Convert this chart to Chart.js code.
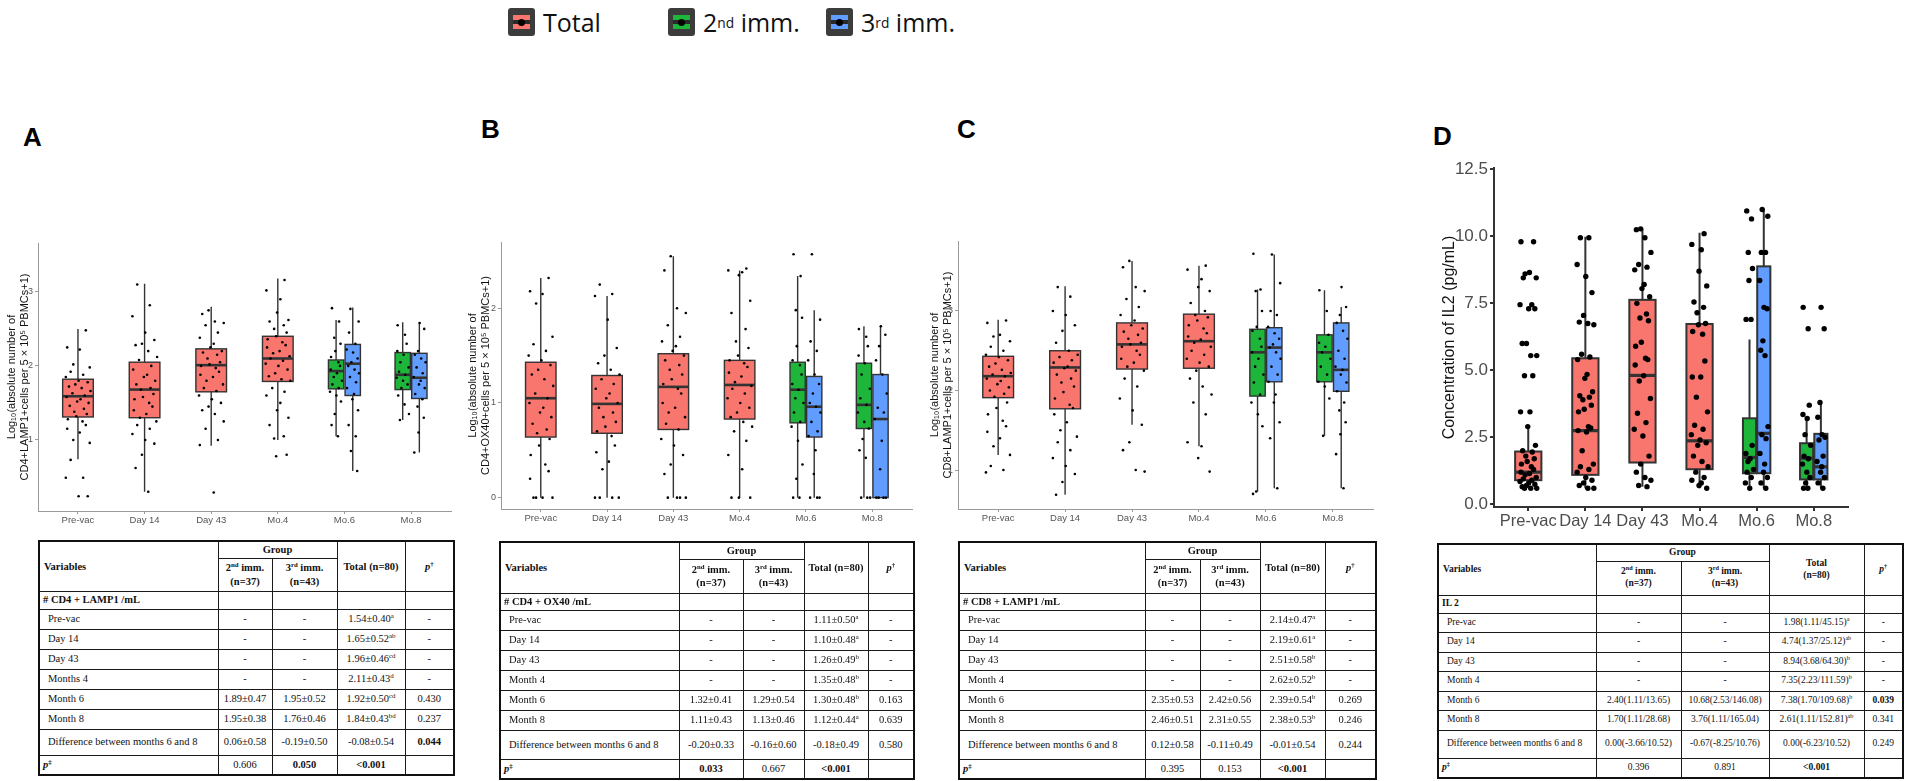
<!DOCTYPE html>
<html>
  <head>
    <meta charset="utf-8" />
    <title>Cellular and IL2 responses</title>
    <script src="https://cdn.jsdelivr.net/npm/chart.js"></script>
    <style>
      body {
        margin: 0;
        width: 1906px;
        height: 781px;
        position: relative;
        overflow: hidden;
        background: #fff;
        font-family: Arial, "Liberation Sans", sans-serif;
      }
      canvas {
        position: absolute;
      }
      .letter {
        position: absolute;
        font: bold 26px Arial, "Liberation Sans", sans-serif;
        color: #000;
      }
      .key {
        position: absolute;
        top: 4px;
        height: 36px;
        display: flex;
        align-items: center;
        font: 25px "Open Sans", "Noto Sans", sans-serif;
        color: #111;
      }
      .key sup {
        font-size: 0.55em;
      }
      .icon {
        position: relative;
        width: 27px;
        height: 28px;
        margin-right: 8px;
        background: #3c3c3c;
        border-radius: 3px;
      }
      .icon::before {
        content: "";
        position: absolute;
        left: 5px;
        top: 7px;
        width: 17px;
        height: 14px;
        background: linear-gradient(
          to bottom,
          var(--c) 0 35%,
          #2a2a2a 35% 65%,
          var(--c) 65% 100%
        );
      }
      .icon::after {
        content: "";
        position: absolute;
        left: 10px;
        top: 11px;
        width: 7px;
        height: 7px;
        border-radius: 50%;
        background: #000;
      }
      table.stats {
        position: absolute;
        border-collapse: collapse;
        table-layout: fixed;
        font-family: "Liberation Serif", "DejaVu Serif", serif;
        font-size: 10.5px;
        color: #111;
        border: 2px solid #111;
      }
      table.stats td {
        border: 1.4px solid #1a1a1a;
        padding: 0 2px;
        text-align: center;
        white-space: nowrap;
        line-height: 1.25;
        overflow: hidden;
      }
      table.stats td.l {
        text-align: left;
        padding-left: 8px;
      }
      table.stats td.sec {
        text-align: left;
        padding-left: 3px;
      }
      table.stats sup {
        font-size: 0.65em;
        line-height: 0;
      }
    </style>
  </head>
  <body>
    <span class="key" style="left: 508px"><span class="icon" style="--c: #f8766d"></span>Total</span>
    <span class="key" style="left: 668px"><span class="icon" style="--c: #1db53a"></span>2<sup>nd</sup>&nbsp;imm.</span>
    <span class="key" style="left: 826px"><span class="icon" style="--c: #619cff"></span>3<sup>rd</sup>&nbsp;imm.</span>

    <div class="letter" style="left: 23px; top: 122px">A</div>
    <div class="letter" style="left: 481px; top: 114px">B</div>
    <div class="letter" style="left: 957px; top: 114px">C</div>
    <div class="letter" style="left: 1433px; top: 121px">D</div>

    <canvas id="chartA" width="470" height="340" style="left: 0; top: 200px"></canvas>
    <canvas id="chartB" width="470" height="340" style="left: 462px; top: 200px"></canvas>
    <canvas id="chartC" width="475" height="340" style="left: 918px; top: 200px"></canvas>
    <canvas id="chartD" width="486" height="420" style="left: 1420px; top: 120px"></canvas>

    <table class="stats" id="tableA"></table>
    <table class="stats" id="tableB"></table>
    <table class="stats" id="tableC"></table>
    <table class="stats" id="tableD"></table>

    <script>
      const categories = ["Pre-vac", "Day 14", "Day 43", "Mo.4", "Mo.6", "Mo.8"];

      // box stats: [lower whisker, q1, median, q3, upper whisker]
      // Total boxes for Pre-vac .. Mo.4, group boxes for Mo.6 and Mo.8

      // A: CD4+LAMP1
      const cd4LampTotalStats = [
        [0.74, 1.31, 1.59, 1.82, 2.5],
        [0.3, 1.3, 1.68, 2.05, 3.11],
        [0.92, 1.65, 2.01, 2.23, 2.8],
        [1.0, 1.79, 2.1, 2.4, 3.18],
      ];
      const cd4Lamp2ndStats = [
        [1.05, 1.69, 1.93, 2.08, 2.62],
        [1.27, 1.68, 1.88, 2.18, 2.59],
      ];
      const cd4Lamp3rdStats = [
        [0.58, 1.6, 2.03, 2.29, 2.79],
        [0.83, 1.56, 1.84, 2.17, 2.59],
      ];
      const cd4LampTotalPts = [
        [2.48, 2.25, 2.22, 2.02, 1.98, 1.92, 1.88, 1.85, 1.8, 1.78, 1.75, 1.72, 1.7, 1.66, 1.63, 1.6, 1.58, 1.55, 1.52, 1.5, 1.46, 1.42, 1.38, 1.35, 1.32, 1.28, 1.25, 1.2, 1.15, 1.1, 1.0, 0.96, 0.73, 0.49, 0.49, 0.24, 0.24],
        [3.1, 2.82, 2.67, 2.45, 2.35, 2.3, 2.28, 2.2, 2.12, 2.08, 2.0, 1.95, 1.88, 1.85, 1.8, 1.75, 1.7, 1.68, 1.62, 1.58, 1.55, 1.5, 1.45, 1.4, 1.35, 1.3, 1.25, 1.2, 1.15, 1.08, 1.0, 0.95, 0.8, 0.62, 0.3],
        [2.75, 2.7, 2.6, 2.58, 2.55, 2.45, 2.38, 2.3, 2.25, 2.2, 2.18, 2.15, 2.1, 2.05, 2.02, 2.0, 1.97, 1.92, 1.88, 1.85, 1.8, 1.75, 1.7, 1.66, 1.6, 1.55, 1.5, 1.45, 1.4, 1.35, 1.25, 1.15, 1.0, 0.93, 0.29],
        [3.16, 3.02, 2.9, 2.72, 2.62, 2.6, 2.55, 2.5, 2.45, 2.4, 2.36, 2.32, 2.28, 2.25, 2.2, 2.17, 2.13, 2.1, 2.07, 2.03, 2.0, 1.95, 1.9, 1.86, 1.82, 1.8, 1.7, 1.65, 1.6, 1.5, 1.4, 1.3, 1.2, 1.05, 1.02, 0.8, 0.78],
      ];
      const cd4Lamp2ndPts = [
        [2.78, 2.6, 2.38, 2.3, 2.2, 2.12, 2.05, 2.0, 1.95, 1.9, 1.85, 1.8, 1.75, 1.7, 1.65, 1.6, 1.52, 1.35, 1.2, 1.05],
        [2.55, 2.42, 2.3, 2.2, 2.15, 2.05, 1.98, 1.92, 1.88, 1.84, 1.8, 1.75, 1.7, 1.6, 1.48, 1.35, 1.27],
      ];
      const cd4Lamp3rdPts = [
        [2.77, 2.6, 2.45, 2.3, 2.22, 2.18, 2.1, 2.05, 2.0, 1.95, 1.9, 1.85, 1.78, 1.7, 1.62, 1.55, 1.4, 1.2, 1.05, 0.85, 0.58],
        [2.58, 2.5, 2.2, 2.15, 2.1, 2.05, 1.98, 1.9, 1.85, 1.8, 1.75, 1.7, 1.62, 1.55, 1.45, 1.3, 1.1, 0.83],
      ];

      // B: CD4+OX40
      const cd4Ox40TotalStats = [
        [0, 0.64, 1.05, 1.43, 2.32],
        [0, 0.68, 0.99, 1.29, 2.13],
        [0, 0.72, 1.17, 1.52, 2.55],
        [0, 0.83, 1.19, 1.45, 2.4],
      ];
      const cd4Ox402ndStats = [
        [0, 0.79, 1.14, 1.43, 2.34],
        [0, 0.73, 0.98, 1.42, 1.81],
      ];
      const cd4Ox403rdStats = [
        [0, 0.64, 0.96, 1.28, 1.98],
        [0, 0, 0.83, 1.3, 1.81],
      ];
      const cd4Ox40TotalPts = [
        [2.32, 2.18, 2.15, 2.05, 1.7, 1.62, 1.55, 1.5, 1.45, 1.4, 1.35, 1.3, 1.25, 1.18, 1.1, 1.05, 1.0, 0.95, 0.9, 0.85, 0.78, 0.72, 0.68, 0.62, 0.55, 0.45, 0.35, 0.28, 0.2, 0, 0, 0, 0],
        [2.25, 2.15, 2.13, 1.88, 1.58, 1.5, 1.42, 1.35, 1.3, 1.25, 1.2, 1.15, 1.1, 1.05, 1.0, 0.95, 0.9, 0.85, 0.8, 0.75, 0.7, 0.65, 0.55, 0.48, 0.38, 0.3, 0, 0, 0, 0],
        [2.55, 2.4, 2.0, 1.95, 1.82, 1.7, 1.65, 1.6, 1.55, 1.5, 1.45, 1.4, 1.35, 1.3, 1.25, 1.2, 1.15, 1.1, 1.0, 0.95, 0.9, 0.85, 0.78, 0.72, 0.62, 0.55, 0.45, 0.35, 0.25, 0, 0, 0, 0],
        [2.42, 2.4, 2.38, 2.35, 2.08, 1.95, 1.78, 1.65, 1.58, 1.5, 1.45, 1.42, 1.38, 1.32, 1.28, 1.22, 1.18, 1.15, 1.1, 1.05, 1.0, 0.95, 0.9, 0.85, 0.8, 0.75, 0.7, 0.6, 0.45, 0.3, 0, 0, 0],
      ];
      const cd4Ox402ndPts = [
        [2.57, 2.34, 1.98, 1.9, 1.6, 1.45, 1.4, 1.3, 1.2, 1.14, 1.05, 1.0, 0.9, 0.8, 0.75, 0.6, 0.35, 0.2, 0, 0],
        [1.78, 1.7, 1.6, 1.5, 1.42, 1.3, 1.15, 1.05, 0.98, 0.9, 0.8, 0.73, 0.62, 0.5, 0.42, 0, 0, 0],
      ];
      const cd4Ox403rdPts = [
        [2.57, 1.88, 1.65, 1.55, 1.45, 1.3, 1.2, 1.1, 1.0, 0.96, 0.9, 0.8, 0.7, 0.65, 0.5, 0.25, 0, 0, 0],
        [1.81, 1.72, 1.6, 1.45, 1.3, 1.1, 0.95, 0.9, 0.83, 0.6, 0.3, 0, 0, 0, 0],
      ];

      // C: CD8+LAMP1
      const cd8LampTotalStats = [
        [1.19, 1.91, 2.18, 2.43, 2.89],
        [0.69, 1.77, 2.29, 2.5, 3.31],
        [1.57, 2.27, 2.58, 2.85, 3.63],
        [1.3, 2.28, 2.62, 2.96, 3.57],
      ];
      const cd8Lamp2ndStats = [
        [0.73, 1.93, 2.48, 2.77, 3.27],
        [1.43, 2.11, 2.48, 2.7, 3.26],
      ];
      const cd8Lamp3rdStats = [
        [0.77, 2.11, 2.54, 2.79, 3.71],
        [0.77, 1.99, 2.26, 2.85, 3.05],
      ];
      const cd8LampTotalPts = [
        [2.88, 2.85, 2.7, 2.68, 2.62, 2.55, 2.5, 2.45, 2.42, 2.38, 2.34, 2.3, 2.26, 2.22, 2.2, 2.18, 2.15, 2.12, 2.08, 2.04, 2.0, 1.96, 1.92, 1.85, 1.78, 1.7, 1.62, 1.55, 1.48, 1.4, 1.3, 1.19, 1.05, 1.0, 0.97],
        [3.3, 3.18, 3.0, 2.95, 2.82, 2.75, 2.6, 2.5, 2.45, 2.42, 2.38, 2.35, 2.3, 2.28, 2.25, 2.2, 2.15, 2.1, 2.05, 1.98, 1.9, 1.82, 1.78, 1.7, 1.6, 1.5, 1.42, 1.35, 1.25, 1.15, 1.05, 0.95, 0.85, 0.69],
        [3.63, 3.55, 3.3, 3.25, 3.15, 3.05, 2.95, 2.88, 2.82, 2.78, 2.74, 2.7, 2.65, 2.6, 2.58, 2.55, 2.5, 2.45, 2.4, 2.35, 2.3, 2.25, 2.15, 2.05, 1.9, 1.75, 1.57, 1.35, 1.25, 1.0, 0.98],
        [3.57, 3.52, 3.4, 3.3, 3.25, 3.1, 3.0, 2.95, 2.92, 2.88, 2.82, 2.78, 2.72, 2.68, 2.64, 2.6, 2.55, 2.5, 2.45, 2.4, 2.35, 2.3, 2.25, 2.15, 2.05, 1.95, 1.85, 1.7, 1.35, 1.3, 1.15, 0.98],
      ];
      const cd8Lamp2ndPts = [
        [3.72, 3.27, 3.25, 3.0, 2.8, 2.75, 2.65, 2.55, 2.48, 2.4, 2.3, 2.2, 2.1, 1.95, 1.85, 1.7, 1.55, 0.73, 0.7],
        [3.26, 3.0, 2.7, 2.6, 2.55, 2.48, 2.4, 2.3, 2.2, 2.11, 2.05, 1.9, 1.43],
      ];
      const cd8Lamp3rdPts = [
        [3.71, 3.35, 3.0, 2.95, 2.8, 2.72, 2.65, 2.58, 2.54, 2.48, 2.4, 2.3, 2.2, 2.11, 1.95, 1.85, 1.6, 1.4, 0.77],
        [3.3, 3.05, 2.95, 2.85, 2.75, 2.65, 2.5, 2.4, 2.3, 2.26, 2.2, 2.1, 1.99, 1.85, 1.75, 1.6, 1.45, 1.2, 0.77],
      ];

      // D: IL2 (pg/mL)
      const il2TotalStats = [
        [0.66, 0.9, 1.2, 1.97, 2.9],
        [0.6, 1.1, 2.75, 5.45, 9.98],
        [0.66, 1.56, 4.81, 7.63, 10.28],
        [0.6, 1.31, 2.37, 6.73, 10.13],
      ];
      const il22ndStats = [
        [0.6, 1.16, 1.75, 3.21, 6.15],
        [0.6, 0.93, 1.72, 2.28, 3.21],
      ];
      const il23rdStats = [
        [0.6, 1.16, 2.65, 8.88, 11.0],
        [0.6, 0.93, 1.4, 2.63, 3.77],
      ];
      const il2TotalPts = [
        [9.8, 9.8, 8.65, 8.6, 8.45, 8.45, 7.45, 7.45, 7.3, 7.3, 6.0, 6.0, 5.55, 5.55, 4.8, 4.8, 3.45, 3.45, 2.9, 2.2, 2.0, 1.95, 1.8, 1.7, 1.6, 1.5, 1.4, 1.3, 1.2, 1.15, 1.1, 1.0, 0.95, 0.9, 0.85, 0.8, 0.75, 0.7, 0.66, 0.6, 0.6, 0.6],
        [9.95, 9.95, 8.95, 8.5, 7.9, 7.05, 6.8, 6.75, 6.7, 5.6, 5.5, 5.4, 4.85, 4.7, 4.2, 4.05, 4.0, 3.9, 3.7, 3.55, 3.45, 2.9, 2.85, 2.75, 2.7, 2.0, 1.5, 1.4, 1.3, 1.2, 1.0, 0.9, 0.8, 0.7, 0.6, 0.6],
        [10.28, 10.25, 9.95, 9.4, 8.95, 8.85, 8.75, 8.2, 8.05, 7.75, 7.5, 7.1, 6.95, 6.85, 6.05, 5.9, 5.45, 5.4, 5.2, 4.8, 4.6, 3.95, 3.4, 3.05, 2.8, 2.55, 1.8, 1.5, 1.2, 1.0, 0.9, 0.7, 0.66],
        [10.1, 9.7, 9.5, 8.7, 8.15, 7.55, 7.35, 7.15, 6.75, 6.7, 6.45, 6.35, 5.35, 4.75, 4.75, 4.0, 3.45, 2.95, 2.8, 2.6, 2.4, 2.3, 2.2, 1.8, 1.6, 1.4, 1.2, 1.0, 0.9, 0.8, 0.7, 0.6],
      ];
      const il22ndPts = [
        [10.95, 10.65, 9.4, 8.8, 8.35, 6.9, 6.9, 2.2, 1.9, 1.7, 1.6, 1.3, 1.2, 1.0, 0.8, 0.6],
        [7.35, 6.55, 3.7, 3.35, 3.2, 2.6, 2.2, 1.8, 1.7, 1.5, 1.2, 1.0, 0.8, 0.6, 0.6],
      ];
      const il23rdPts = [
        [11.0, 10.75, 9.4, 9.4, 8.35, 7.35, 7.3, 6.1, 5.75, 5.55, 2.9, 2.6, 2.45, 1.9, 1.5, 1.2, 1.0, 0.8, 0.6],
        [7.35, 6.55, 3.8, 3.25, 2.6, 2.5, 2.4, 1.8, 1.6, 1.4, 1.2, 1.0, 0.8, 0.6],
      ];

      const colTotal = "#f8766d";
      const col2nd = "#1db53a";
      const col3rd = "#619cff";

      // fixed horizontal jitter pattern (positions only, values come from the arrays)
      const jitter = [0.62, -0.85, 0.14, -0.37, 0.93, -0.58, 0.41, -0.96, 0.05, 0.77, -0.21, -0.71, 0.29, 0.99, -0.44, 0.53, -0.9, 0.2, -0.06, 0.84, -0.65, 0.47, -0.29, 0.7, -0.13, -0.8, 0.36];

      function boxList(total, g2, g3) {
        const out = [];
        total.forEach((s, i) => out.push({ pos: i + 1, w: 0.46, s: s, c: colTotal }));
        g2.forEach((s, i) => out.push({ pos: 5 + i - 0.125, w: 0.23, s: s, c: col2nd }));
        g3.forEach((s, i) => out.push({ pos: 5 + i + 0.125, w: 0.23, s: s, c: col3rd }));
        return out;
      }

      function pointList(total, g2, g3, spread) {
        const out = [];
        let k = 0;
        const add = (vals, centre, w) => {
          vals.forEach((v, i) => out.push({ x: centre + w * jitter[(i + k * 5) % jitter.length], y: v }));
          k++;
        };
        total.forEach((vals, i) => add(vals, i + 1, spread));
        g2.forEach((vals, i) => add(vals, 5 + i - 0.125, spread * 0.5));
        g3.forEach((vals, i) => add(vals, 5 + i + 0.125, spread * 0.5));
        return out;
      }

      const boxPlugin = {
        id: "boxes",
        beforeDatasetsDraw(chart, args, opts) {
          const { ctx } = chart;
          const x = chart.scales.x;
          const y = chart.scales.y;
          ctx.save();
          ctx.strokeStyle = "#333";
          opts.list.forEach((b) => {
            const [lo, q1, med, q3, hi] = b.s;
            const xl = x.getPixelForValue(b.pos - b.w / 2);
            const xr = x.getPixelForValue(b.pos + b.w / 2);
            const xc = x.getPixelForValue(b.pos);
            const yt = y.getPixelForValue(q3);
            const yb = y.getPixelForValue(q1);
            ctx.lineWidth = opts.line;
            ctx.beginPath();
            ctx.moveTo(xc, y.getPixelForValue(hi));
            ctx.lineTo(xc, yt);
            ctx.moveTo(xc, yb);
            ctx.lineTo(xc, y.getPixelForValue(lo));
            ctx.stroke();
            ctx.fillStyle = b.c;
            ctx.fillRect(xl, yt, xr - xl, yb - yt);
            ctx.strokeRect(xl, yt, xr - xl, yb - yt);
            ctx.lineWidth = opts.med;
            ctx.beginPath();
            ctx.moveTo(xl, y.getPixelForValue(med));
            ctx.lineTo(xr, y.getPixelForValue(med));
            ctx.stroke();
          });
          ctx.restore();
        },
      };

      function drawPanel(id, o) {
        new Chart(document.getElementById(id), {
          type: "scatter",
          data: {
            datasets: [
              {
                data: pointList(o.total, o.g2, o.g3, o.spread),
                pointBackgroundColor: "#000",
                pointBorderWidth: 0,
                pointRadius: o.dot,
              },
            ],
          },
          options: {
            responsive: false,
            animation: false,
            events: [],
            layout: { padding: { top: o.padTop, right: o.padRight, left: 0, bottom: 0 } },
            plugins: {
              legend: { display: false },
              tooltip: { enabled: false },
              boxes: { list: boxList(o.totalStats, o.g2Stats, o.g3Stats), line: o.line, med: o.med },
            },
            scales: {
              x: {
                type: "linear",
                min: 0.4,
                max: 6.6,
                afterBuildTicks: (s) => {
                  s.ticks = categories.map((c, i) => ({ value: i + 1 }));
                },
                afterFit: (s) => {
                  s.height = o.xHeight;
                },
                ticks: {
                  autoSkip: false,
                  maxRotation: 0,
                  minRotation: 0,
                  padding: o.xPad,
                  color: o.tickColor,
                  font: { size: o.xFont, family: "Arial, 'Liberation Sans', sans-serif" },
                  callback: (v) => categories[Math.round(v) - 1],
                },
                grid: { drawOnChartArea: false, tickLength: o.tickLen, color: o.axisColor, lineWidth: o.axisWidth },
                border: { color: o.axisColor, width: o.axisWidth },
              },
              y: {
                min: o.yMin,
                max: o.yMax,
                afterBuildTicks: (s) => {
                  s.ticks = o.yTicks.map((v) => ({ value: v }));
                },
                afterFit: (s) => {
                  s.width = o.yWidth;
                },
                ticks: {
                  padding: 2,
                  color: o.tickColor,
                  font: { size: o.yFont, family: "Arial, 'Liberation Sans', sans-serif" },
                  callback: (v) => (o.decimals ? v.toFixed(1) : v),
                },
                grid: { drawOnChartArea: false, tickLength: o.tickLen, color: o.axisColor, lineWidth: o.axisWidth },
                border: { color: o.axisColor, width: o.axisWidth },
                title: {
                  display: true,
                  text: o.title,
                  color: "#111",
                  padding: { top: o.titlePad, bottom: 0 },
                  font: { size: o.titleFont, family: "Arial, 'Liberation Sans', sans-serif" },
                },
              },
            },
          },
          plugins: [boxPlugin],
        });
      }

      const smallPanel = {
        spread: 0.19,
        dot: 1.3,
        line: 1.4,
        med: 2.6,
        xHeight: 29,
        xPad: 1,
        xFont: 9.5,
        yFont: 9,
        tickLen: 3,
        tickColor: "#555",
        axisColor: "#9a9a9a",
        axisWidth: 1,
        titleFont: 11,
        decimals: false,
      };

      drawPanel("chartA", {
        ...smallPanel,
        total: cd4LampTotalPts, g2: cd4Lamp2ndPts, g3: cd4Lamp3rdPts,
        totalStats: cd4LampTotalStats, g2Stats: cd4Lamp2ndStats, g3Stats: cd4Lamp3rdStats,
        yMin: 0.04, yMax: 3.66, yTicks: [1, 2, 3],
        yWidth: 38, padTop: 43, padRight: 19, titlePad: 5,
        title: ["Log\u2081\u2080(absolute number of", "CD4+LAMP1+cells per 5 \u00d7 10\u2075 PBMCs+1)"],
      });

      drawPanel("chartB", {
        ...smallPanel,
        total: cd4Ox40TotalPts, g2: cd4Ox402ndPts, g3: cd4Ox403rdPts,
        totalStats: cd4Ox40TotalStats, g2Stats: cd4Ox402ndStats, g3Stats: cd4Ox403rdStats,
        yMin: -0.12, yMax: 2.7, yTicks: [0, 1, 2],
        yWidth: 39, padTop: 42, padRight: 20, titlePad: 4, xHeight: 31,
        title: ["Log\u2081\u2080(absolute number of", "CD4+OX40+cells per 5 \u00d7 10\u2075 PBMCs+1)"],
      });

      drawPanel("chartC", {
        ...smallPanel,
        total: cd8LampTotalPts, g2: cd8Lamp2ndPts, g3: cd8Lamp3rdPts,
        totalStats: cd8LampTotalStats, g2Stats: cd8Lamp2ndStats, g3Stats: cd8Lamp3rdStats,
        yMin: 0.51, yMax: 3.88, yTicks: [1, 2, 3],
        yWidth: 40, padTop: 41, padRight: 20, titlePad: 10, xHeight: 31,
        title: ["Log\u2081\u2080(absolute number of", "CD8+LAMP1+cells per 5 \u00d7 10\u2075 PBMCs+1)"],
      });

      drawPanel("chartD", {
        total: il2TotalPts, g2: il22ndPts, g3: il23rdPts,
        totalStats: il2TotalStats, g2Stats: il22ndStats, g3Stats: il23rdStats,
        spread: 0.15, dot: 2.7, line: 2, med: 3.2,
        yMin: -0.1, yMax: 12.55, yTicks: [0, 2.5, 5, 7.5, 10, 12.5], decimals: true,
        yWidth: 74, padTop: 48, padRight: 58, xHeight: 33, xPad: 1,
        xFont: 16.5, yFont: 17, tickLen: 4, tickColor: "#4d4d4d",
        axisColor: "#333", axisWidth: 2,
        titleFont: 16, titlePad: 20,
        title: "Concentration of IL2 (pg/mL)",
      });

      // ---- tables ----
      const headNote = "<b><i>p</i><sup>\u2020</sup></b>";

      const tableA = {
        left: 38, top: 540, widths: [179, 54, 65, 68, 49], heights: [17, 33, 18, 20, 26, 20], font: 10.5,
        section: "# CD4 + LAMP1 /mL", totalHead: "Total (n=80)",
        rows: [
          ["Pre-vac", "-", "-", "1.54\u00b10.40", "a", "-"],
          ["Day 14", "-", "-", "1.65\u00b10.52", "ab", "-"],
          ["Day 43", "-", "-", "1.96\u00b10.46", "cd", "-"],
          ["Months 4", "-", "-", "2.11\u00b10.43", "d", "-"],
          ["Month 6", "1.89\u00b10.47", "1.95\u00b10.52", "1.92\u00b10.50", "cd", "0.430"],
          ["Month 8", "1.95\u00b10.38", "1.76\u00b10.46", "1.84\u00b10.43", "bd", "0.237"],
          ["Difference between months 6 and 8", "0.06\u00b10.58", "-0.19\u00b10.50", "-0.08\u00b10.54", "", "*0.044"],
        ],
        pRow: ["0.606", "*0.050", "*&lt;0.001"],
      };
      const tableB = {
        left: 499, top: 541, widths: [179, 64, 61, 64, 46], heights: [17, 34, 17, 20, 29, 20], font: 10.5,
        section: "# CD4 + OX40 /mL", totalHead: "Total (n=80)",
        rows: [
          ["Pre-vac", "-", "-", "1.11\u00b10.50", "a", "-"],
          ["Day 14", "-", "-", "1.10\u00b10.48", "a", "-"],
          ["Day 43", "-", "-", "1.26\u00b10.49", "b", "-"],
          ["Month 4", "-", "-", "1.35\u00b10.48", "b", "-"],
          ["Month 6", "1.32\u00b10.41", "1.29\u00b10.54", "1.30\u00b10.48", "b", "0.163"],
          ["Month 8", "1.11\u00b10.43", "1.13\u00b10.46", "1.12\u00b10.44", "a", "0.639"],
          ["Difference between months 6 and 8", "-0.20\u00b10.33", "-0.16\u00b10.60", "-0.18\u00b10.49", "", "0.580"],
        ],
        pRow: ["*0.033", "0.667", "*&lt;0.001"],
      };
      const tableC = {
        left: 958, top: 541, widths: [186, 55, 60, 65, 51], heights: [17, 34, 17, 20, 29, 20], font: 10.5,
        section: "# CD8 + LAMP1 /mL", totalHead: "Total (n=80)",
        rows: [
          ["Pre-vac", "-", "-", "2.14\u00b10.47", "a", "-"],
          ["Day 14", "-", "-", "2.19\u00b10.61", "a", "-"],
          ["Day 43", "-", "-", "2.51\u00b10.58", "b", "-"],
          ["Month 4", "-", "-", "2.62\u00b10.52", "b", "-"],
          ["Month 6", "2.35\u00b10.53", "2.42\u00b10.56", "2.39\u00b10.54", "b", "0.269"],
          ["Month 8", "2.46\u00b10.51", "2.31\u00b10.55", "2.38\u00b10.53", "b", "0.246"],
          ["Difference between months 6 and 8", "0.12\u00b10.58", "-0.11\u00b10.49", "-0.01\u00b10.54", "", "0.244"],
        ],
        pRow: ["0.395", "0.153", "*&lt;0.001"],
      };
      const tableD = {
        left: 1437, top: 543, widths: [158, 85, 88, 95, 39], heights: [17, 34, 18, 19.5, 28, 20], font: 9.5,
        section: "IL 2", totalHead: "Total<br>(n=80)",
        rows: [
          ["Pre-vac", "-", "-", "1.98(1.11/45.15)", "a", "-"],
          ["Day 14", "-", "-", "4.74(1.37/25.12)", "ab", "-"],
          ["Day 43", "-", "-", "8.94(3.68/64.30)", "b", "-"],
          ["Month 4", "-", "-", "7.35(2.23/111.59)", "b", "-"],
          ["Month 6", "2.40(1.11/13.65)", "10.68(2.53/146.08)", "7.38(1.70/109.68)", "b", "*0.039"],
          ["Month 8", "1.70(1.11/28.68)", "3.76(1.11/165.04)", "2.61(1.11/152.81)", "ab", "0.341"],
          ["Difference between months 6 and 8", "0.00(-3.66/10.52)", "-0.67(-8.25/10.76)", "0.00(-6.23/10.52)", "", "0.249"],
        ],
        pRow: ["0.396", "0.891", "*&lt;0.001"],
      };

      const cell = (s) => (s.startsWith("*") ? "<b>" + s.slice(1) + "</b>" : s);

      function buildTable(id, t) {
        const el = document.getElementById(id);
        el.style.left = t.left + "px";
        el.style.top = t.top + "px";
        el.style.fontSize = t.font + "px";
        const [hGroup, hSub, hSec, hRow, hDiff, hP] = t.heights;
        let html = "<colgroup>" + t.widths.map((w) => '<col style="width:' + w + 'px">').join("") + "</colgroup>";
        html +=
          '<tr style="height:' + hGroup + 'px"><td rowspan="2" class="l" style="padding-left:4px"><b>Variables</b></td>' +
          '<td colspan="2"><b>Group</b></td><td rowspan="2"><b>' + t.totalHead + '</b></td><td rowspan="2">' + headNote + "</td></tr>";
        html +=
          '<tr style="height:' + hSub + 'px"><td><b>2<sup>nd</sup> imm.<br>(n=37)</b></td><td><b>3<sup>rd</sup> imm.<br>(n=43)</b></td></tr>';
        html += '<tr style="height:' + hSec + 'px"><td class="sec"><b>' + t.section + "</b></td><td></td><td></td><td></td><td></td></tr>";
        t.rows.forEach((r, i) => {
          const h = i === t.rows.length - 1 ? hDiff : hRow;
          const sup = r[4] ? "<sup>" + r[4] + "</sup>" : "";
          html +=
            '<tr style="height:' + h + 'px"><td class="l">' + r[0] + "</td><td>" + cell(r[1]) + "</td><td>" + cell(r[2]) +
            "</td><td>" + cell(r[3]) + sup + "</td><td>" + cell(r[5]) + "</td></tr>";
        });
        html +=
          '<tr style="height:' + hP + 'px"><td class="sec"><b><i>p</i><sup>\u2021</sup></b></td><td>' + cell(t.pRow[0]) + "</td><td>" +
          cell(t.pRow[1]) + "</td><td>" + cell(t.pRow[2]) + "</td><td></td></tr>";
        el.innerHTML = html;
      }

      buildTable("tableA", tableA);
      buildTable("tableB", tableB);
      buildTable("tableC", tableC);
      buildTable("tableD", tableD);
    </script>
  </body>
</html>
